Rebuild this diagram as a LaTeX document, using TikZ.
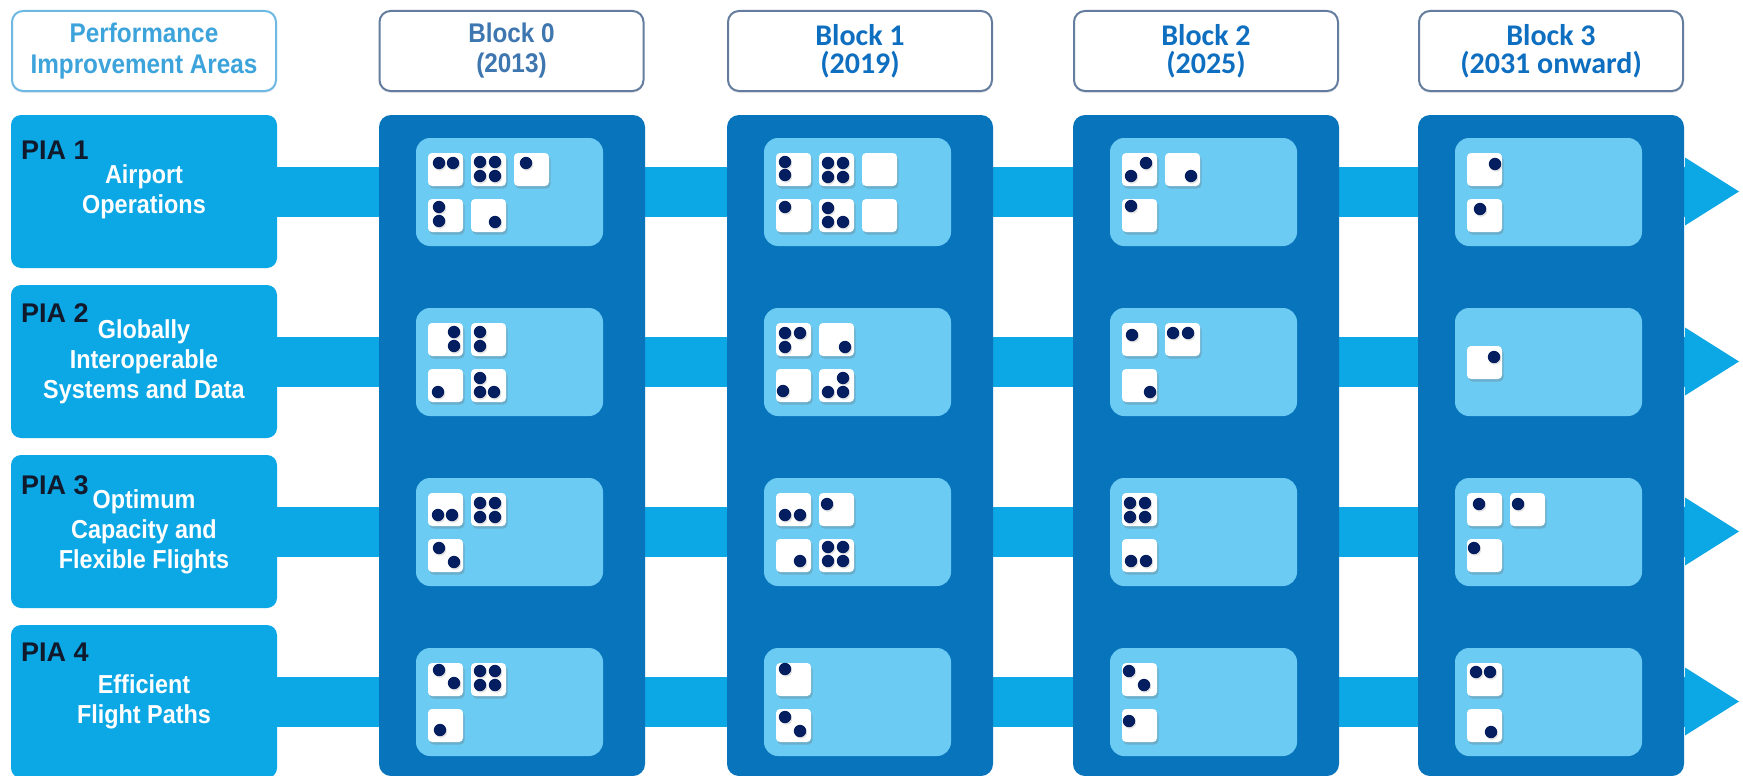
\documentclass[tikz,border=0pt]{standalone}
\usepackage{fontspec}
\setmainfont{Liberation Sans}
\newfontfamily\condfont[FakeStretch=0.9]{Liberation Sans}
\newfontfamily\calfont{Carlito}
\usetikzlibrary{shadows}
\definecolor{colblue}{RGB}{7,116,188}
\definecolor{piablue}{RGB}{12,167,229}
\definecolor{innerblue}{RGB}{108,203,243}
\definecolor{dotnavy}{RGB}{4,30,96}
\definecolor{hdrtextA}{RGB}{60,163,219}
\definecolor{hdrborderA}{RGB}{110,185,228}
\definecolor{hdrtextB}{RGB}{62,118,176}
\definecolor{hdrborderB}{RGB}{100,125,158}
\definecolor{hdrtextC}{RGB}{14,110,192}
\definecolor{labeldark}{RGB}{16,26,44}

\newcommand{\dotsq}[5]{%
  \path[sqbox] ({#1+49+43*#3},{153+170*#2+46*#4}) rectangle ++(35,33);
  \foreach \dx/\dy in {#5}{\fill[dotfill] ({#1+49+43*#3+\dx},{153+170*#2+46*#4+\dy}) circle[radius=6.2pt];}%
}
\newcommand{\blanksq}[4]{%
  \path[sqbox] ({#1+49+43*#3},{153+170*#2+46*#4}) rectangle ++(35,33);%
}

\begin{document}
\begin{tikzpicture}[x=1pt,y=-1pt,
  hdr/.style={draw, line width=2pt, fill=white, rounded corners=11pt,
    minimum width=264pt, minimum height=80pt, align=center, inner sep=0pt,
    drop shadow={shadow xshift=0pt,shadow yshift=-2pt,opacity=0.15}},
  hdrA/.style={hdr, draw=hdrborderA, text=hdrtextA, font=\condfont\bfseries\fontsize{27}{31}\selectfont},
  hdrB/.style={hdr, draw=hdrborderB, text=hdrtextB, font=\condfont\bfseries\fontsize{27}{30}\selectfont},
  hdrC/.style={hdr, draw=hdrborderB, text=hdrtextC, font=\calfont\bfseries\fontsize{30}{27.5}\selectfont},
  piabox/.style={fill=piablue, rounded corners=10pt, minimum width=266pt, minimum height=153pt,
    inner sep=0pt, align=center, text=white, font=\condfont\bfseries\fontsize{26}{30}\selectfont},
  pialabel/.style={anchor=base west, inner sep=0pt, text=labeldark, font=\bfseries\fontsize{27}{30}\selectfont},
  barline/.style={draw=piablue, line width=50pt},
  arrowfill/.style={fill=piablue},
  colbox/.style={fill=colblue, rounded corners=12pt, minimum width=266pt, minimum height=661pt, inner sep=0pt},
  innerbox/.style={fill=innerblue, rounded corners=14pt, minimum width=187pt, minimum height=108pt, inner sep=0pt},
  sqbox/.style={fill=white, rounded corners=4pt,
    drop shadow={shadow xshift=1.5pt,shadow yshift=-2.5pt,opacity=0.28,fill=black!60}},
  dotfill/.style={fill=dotnavy,
    drop shadow={shadow xshift=1pt,shadow yshift=-1.5pt,opacity=0.2,fill=black!60}}
]
\fill[white] (0,0) rectangle (1743,776);
\useasboundingbox (0,0) rectangle (1743,776);

% PIA boxes
\node[piabox] (pia1) at (144,191.5) {Airport\\Operations};
\node[piabox] (pia2) at (144,361.5) {Globally\\Interoperable\\Systems and Data};
\node[piabox] (pia3) at (144,531.5) {Optimum\\Capacity and\\Flexible Flights};
\node[piabox] (pia4) at (144,701.5) {Efficient\\Flight Paths};

% bars and arrow heads
\foreach \i in {1,...,4}{
  \coordinate (base\i) at (1685,{191.5+170*(\i-1)});
  \coordinate (tip\i) at (1739,{191.5+170*(\i-1)});
  \draw[barline] (pia\i.east) -- (base\i);
  \fill[arrowfill] (base\i) ++(0,-34) -- (tip\i) -- ([yshift=-34pt]base\i) -- cycle;
}

% columns and inner boxes
\foreach \L [count=\i from 0] in {379,727,1073,1418}{
  \node[colbox] (col\i) at ({\L+133},445.5) {};
  \foreach \R in {0,...,3}{
    \node[innerbox] (in\i\R) at ({\L+130.5},{192+170*\R}) {};
  }
}

% Block 0
\dotsq{379}{0}{0}{0}{11/10,25/10}
\dotsq{379}{0}{1}{0}{9/9,24/9,9/23,24/23}
\dotsq{379}{0}{2}{0}{12/10}
\dotsq{379}{0}{0}{1}{11/8,11/22}
\dotsq{379}{0}{1}{1}{24/23}
\dotsq{379}{1}{0}{0}{26/9,26/23}
\dotsq{379}{1}{1}{0}{9/9,9/23}
\dotsq{379}{1}{0}{1}{10/23}
\dotsq{379}{1}{1}{1}{9/9,9/23,23/23}
\dotsq{379}{2}{0}{0}{10/22,24/22}
\dotsq{379}{2}{1}{0}{9/10,24/10,9/24,24/24}
\dotsq{379}{2}{0}{1}{11/9,26/23}
\dotsq{379}{3}{0}{0}{11/7,26/20}
\dotsq{379}{3}{1}{0}{9/8,24/8,9/22,24/22}
\dotsq{379}{3}{0}{1}{12/21}
% Block 1
\dotsq{727}{0}{0}{0}{9/9,9/22}
\dotsq{727}{0}{1}{0}{9/10,24/10,9/24,24/24}
\blanksq{727}{0}{2}{0}
\dotsq{727}{0}{0}{1}{9/8}
\dotsq{727}{0}{1}{1}{9/9,9/23,24/23}
\blanksq{727}{0}{2}{1}
\dotsq{727}{1}{0}{0}{9/10,24/10,9/24}
\dotsq{727}{1}{1}{0}{26/24}
\dotsq{727}{1}{0}{1}{7/22}
\dotsq{727}{1}{1}{1}{24/9,9/23,24/23}
\dotsq{727}{2}{0}{0}{9/22,24/22}
\dotsq{727}{2}{1}{0}{8/11}
\dotsq{727}{2}{0}{1}{24/22}
\dotsq{727}{2}{1}{1}{9/8,24/8,9/22,24/22}
\dotsq{727}{3}{0}{0}{9/6}
\dotsq{727}{3}{0}{1}{9/8,24/22}
% Block 2
\dotsq{1073}{0}{0}{0}{9/23,24/10}
\dotsq{1073}{0}{1}{0}{26/23}
\dotsq{1073}{0}{0}{1}{9/7}
\dotsq{1073}{1}{0}{0}{10/12}
\dotsq{1073}{1}{1}{0}{8/10,23/10}
\dotsq{1073}{1}{0}{1}{28/23}
\dotsq{1073}{2}{0}{0}{8/10,23/10,8/24,23/24}
\dotsq{1073}{2}{0}{1}{9/22,24/22}
\dotsq{1073}{3}{0}{0}{7/8,22/22}
\dotsq{1073}{3}{0}{1}{7/12}
% Block 3
\dotsq{1418}{0}{0}{0}{28/11}
\dotsq{1418}{0}{0}{1}{13/10}
\dotsq{1418}{1}{0}{0.5}{27/11}
\dotsq{1418}{2}{0}{0}{12/11}
\dotsq{1418}{2}{1}{0}{8/11}
\dotsq{1418}{2}{0}{1}{7/9}
\dotsq{1418}{3}{0}{0}{9/9,23/9}
\dotsq{1418}{3}{0}{1}{24/23}

% headers
\node[hdrA] (hpia) at (144,51) {Performance\\Improvement Areas};
\node[hdrB] (hb0) at (511.5,51) {Block 0\\(2013)};
\node[hdrC] (hb1) at (860,51) {Block 1\\(2019)};
\node[hdrC] (hb2) at (1206,51) {Block 2\\(2025)};
\node[hdrC] (hb3) at (1551,51) {Block 3\\(2031 onward)};

% PIA labels
\node[pialabel] (pl1) at (21,159) {PIA 1};
\node[pialabel] (pl2) at (21,322) {PIA 2};
\node[pialabel] (pl3) at (21,494) {PIA 3};
\node[pialabel] (pl4) at (21,661) {PIA 4};
\end{tikzpicture}
\end{document}
